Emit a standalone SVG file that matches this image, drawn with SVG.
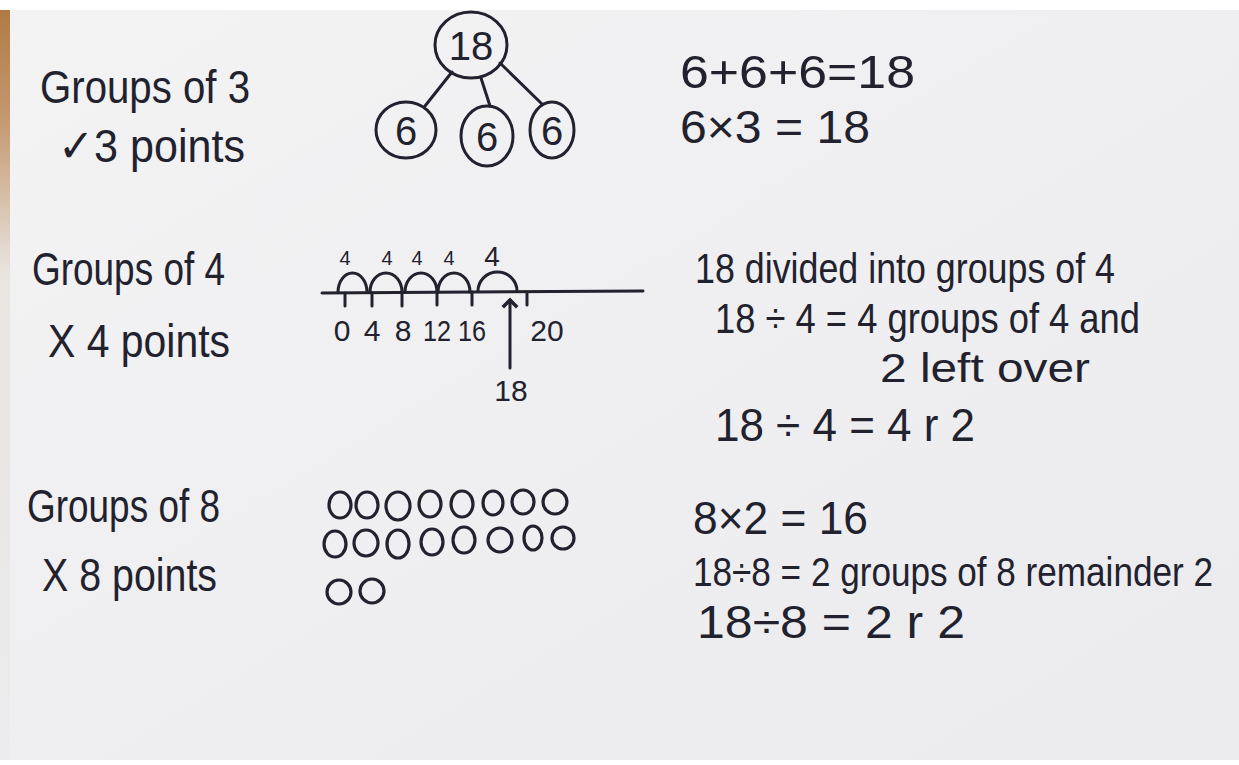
<svg xmlns="http://www.w3.org/2000/svg" width="1239" height="765" viewBox="0 0 1239 765">
<style>
.ink{fill:#22222f;font-family:"Liberation Sans","DejaVu Sans",sans-serif;}
.t46{font-size:46px;}
.t40{font-size:40px;}
.t36{font-size:36px;}
.t28{font-size:30px;}
.t20{font-size:20px;}
.stroke{fill:none;stroke:#22222f;stroke-width:3;stroke-linecap:round;}
.oval{fill:none;stroke:#22222f;stroke-width:3.2;}
</style>
<defs>
<linearGradient id="card" x1="0" y1="0" x2="1" y2="1">
<stop offset="0" stop-color="#f3f3f4"/>
<stop offset="1" stop-color="#ebebee"/>
</linearGradient>
<linearGradient id="edge" x1="0" y1="0" x2="0" y2="1">
<stop offset="0" stop-color="#b07a45"/>
<stop offset="0.15" stop-color="#c49a72"/>
<stop offset="0.35" stop-color="#e8e4e0"/>
<stop offset="1" stop-color="#ececee"/>
</linearGradient>
<marker id="arrow" viewBox="0 0 10 10" refX="5" refY="5" markerWidth="6" markerHeight="6" orient="auto-start-reverse">
<path d="M1,1 L5,5 L1,9" fill="none" stroke="#22222f" stroke-width="2"/>
</marker>
</defs>
<rect x="0" y="0" width="1239" height="765" fill="#ffffff"/>
<rect x="6" y="10" width="1233" height="750" fill="url(#card)"/>
<rect x="0" y="10" width="10" height="750" fill="url(#edge)"/>

<g id="row1-label">
<text class="ink t46" x="40" y="103" textLength="210" lengthAdjust="spacingAndGlyphs">Groups of 3</text>
<text class="ink t46" x="58" y="162" textLength="187" lengthAdjust="spacingAndGlyphs">✓3 points</text>
</g>

<g id="connectors">
<line class="stroke" x1="452" y1="72" x2="425" y2="106"/>
<line class="stroke" x1="481" y1="78" x2="490" y2="106"/>
<line class="stroke" x1="500" y1="63" x2="542" y2="104"/>
</g>
<g id="node-18">
<ellipse class="stroke" cx="471" cy="45" rx="36" ry="33"/>
<text class="ink" font-size="40" x="471" y="60" text-anchor="middle">18</text>
</g>
<g id="node-6-left">
<ellipse class="stroke" cx="406" cy="130" rx="30" ry="28"/>
<text class="ink" font-size="40" x="406" y="145" text-anchor="middle">6</text>
</g>
<g id="node-6-middle">
<ellipse class="stroke" cx="487" cy="136" rx="26" ry="30"/>
<text class="ink" font-size="40" x="487" y="151" text-anchor="middle">6</text>
</g>
<g id="node-6-right">
<ellipse class="stroke" cx="552" cy="130" rx="22" ry="28"/>
<text class="ink" font-size="40" x="552" y="145" text-anchor="middle">6</text>
</g>

<g id="row1-working">
<text class="ink t46" x="680" y="88" textLength="235" lengthAdjust="spacingAndGlyphs">6+6+6=18</text>
<text class="ink t46" x="680" y="143" textLength="190" lengthAdjust="spacingAndGlyphs">6×3 = 18</text>
</g>

<g id="row2-label">
<text class="ink t46" x="32" y="285" textLength="193" lengthAdjust="spacingAndGlyphs">Groups of 4</text>
<text class="ink t46" x="48" y="357" textLength="182" lengthAdjust="spacingAndGlyphs">X 4 points</text>
</g>

<g id="number-line">
<line class="stroke" x1="322" y1="293" x2="643" y2="291"/>
<path class="stroke" d="M345 293V306 M372 293V306 M402 293V306 M437 292V305 M472 292V305 M527 292V305"/>
<path class="stroke" d="M338 292 A14.5 19 0 0 1 367 292 M370 292 A16 19 0 0 1 402 292 M405 292 A16 19 0 0 1 437 292 M438 292 A16 19 0 0 1 470 292 M478 291 A19.5 19 0 0 1 517 291"/>
<text class="ink t20" x="345" y="265" text-anchor="middle">4</text>
<text class="ink t20" x="387" y="265" text-anchor="middle">4</text>
<text class="ink t20" x="417" y="265" text-anchor="middle">4</text>
<text class="ink t20" x="449" y="265" text-anchor="middle">4</text>
<text class="ink" font-size="28" x="492" y="266" text-anchor="middle">4</text>
<text class="ink t28" x="342" y="341" text-anchor="middle">0</text>
<text class="ink t28" x="372" y="341" text-anchor="middle">4</text>
<text class="ink t28" x="403" y="341" text-anchor="middle">8</text>
<text class="ink t28" x="437" y="341" text-anchor="middle" textLength="28" lengthAdjust="spacingAndGlyphs">12</text>
<text class="ink t28" x="472" y="341" text-anchor="middle" textLength="28" lengthAdjust="spacingAndGlyphs">16</text>
<text class="ink t28" x="547" y="341" text-anchor="middle">20</text>
<line class="stroke" x1="510" y1="368" x2="510" y2="300" marker-end="url(#arrow)"/>
<text class="ink t28" x="511" y="401" text-anchor="middle">18</text>
</g>

<g id="row2-working">
<text class="ink" font-size="42" x="695" y="283" textLength="420" lengthAdjust="spacingAndGlyphs">18 divided into groups of 4</text>
<text class="ink" font-size="42" x="715" y="333" textLength="425" lengthAdjust="spacingAndGlyphs">18 ÷ 4 = 4 groups of 4 and</text>
<text class="ink t40" x="880" y="382" textLength="210" lengthAdjust="spacingAndGlyphs">2 left over</text>
<text class="ink t46" x="715" y="441" textLength="260" lengthAdjust="spacingAndGlyphs">18 ÷ 4 = 4 r 2</text>
</g>

<g id="row3-label">
<text class="ink t46" x="27" y="522" textLength="193" lengthAdjust="spacingAndGlyphs">Groups of 8</text>
<text class="ink t46" x="42" y="591" textLength="175" lengthAdjust="spacingAndGlyphs">X 8 points</text>
</g>

<g id="counters">
<ellipse class="oval" cx="340" cy="505" rx="11" ry="13"/>
<ellipse class="oval" cx="367" cy="505" rx="11" ry="13"/>
<ellipse class="oval" cx="398" cy="506" rx="12" ry="14"/>
<ellipse class="oval" cx="430" cy="504" rx="11" ry="13"/>
<ellipse class="oval" cx="462" cy="504" rx="11" ry="13"/>
<ellipse class="oval" cx="493" cy="503" rx="10" ry="12"/>
<ellipse class="oval" cx="523" cy="502" rx="11" ry="12"/>
<ellipse class="oval" cx="555" cy="502" rx="12" ry="12"/>
<ellipse class="oval" cx="335" cy="544" rx="11" ry="13"/>
<ellipse class="oval" cx="366" cy="543" rx="12" ry="13"/>
<ellipse class="oval" cx="398" cy="544" rx="11" ry="14"/>
<ellipse class="oval" cx="432" cy="542" rx="11" ry="13"/>
<ellipse class="oval" cx="464" cy="540" rx="11" ry="13"/>
<ellipse class="oval" cx="500" cy="540" rx="12" ry="12"/>
<ellipse class="oval" cx="533" cy="538" rx="9" ry="12"/>
<ellipse class="oval" cx="563" cy="538" rx="11" ry="11"/>
<ellipse class="oval" cx="339" cy="592" rx="12" ry="12"/>
<ellipse class="oval" cx="372" cy="591" rx="12" ry="12"/>
</g>

<g id="row3-working">
<text class="ink t46" x="693" y="534" textLength="175" lengthAdjust="spacingAndGlyphs">8×2 = 16</text>
<text class="ink" font-size="35" transform="translate(693,586) scale(1,1.18)" x="0" y="0" textLength="520" lengthAdjust="spacingAndGlyphs">18÷8 = 2 groups of 8 remainder 2</text>
<text class="ink t46" x="697" y="638" textLength="268" lengthAdjust="spacingAndGlyphs">18÷8 = 2 r 2</text>
</g>
</svg>
